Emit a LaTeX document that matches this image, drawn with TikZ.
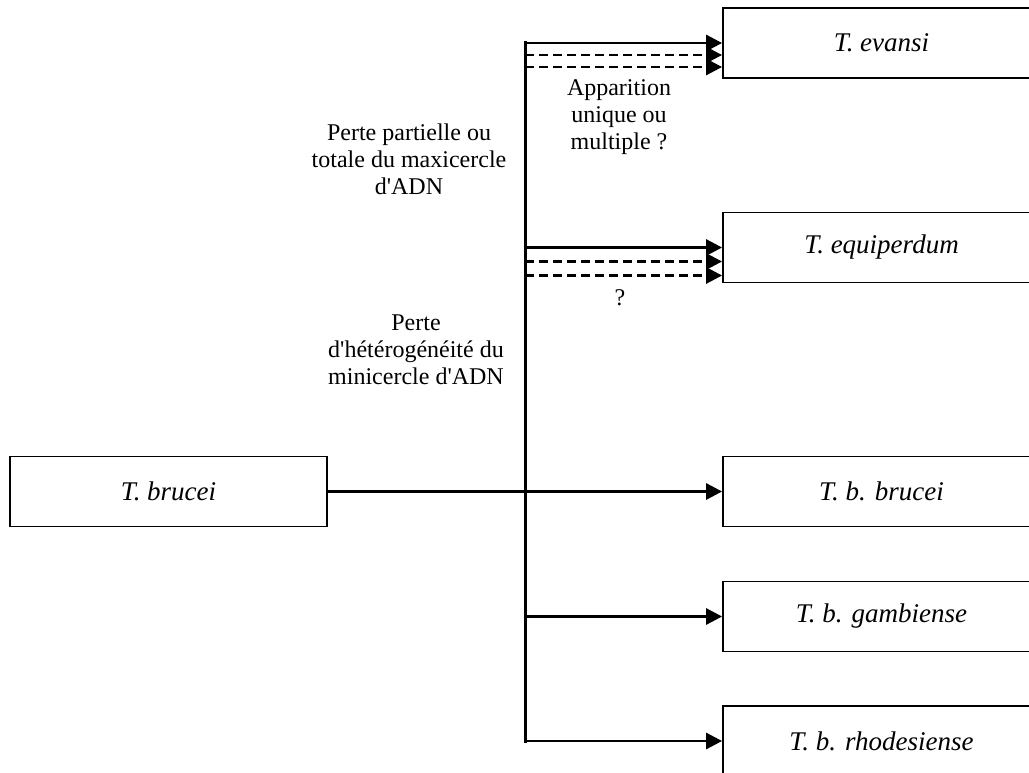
\documentclass[tikz,border=0pt]{standalone}
\usepackage{fontspec}
\setmainfont{Liberation Serif}
\usetikzlibrary{arrows.meta,calc}
\begin{document}
\begin{tikzpicture}[x=1pt,y=-1pt,
  taxbox/.style={draw,line width=1.8pt,minimum width=317pt,minimum height=70pt,inner sep=0pt,
    font=\fontsize{27}{30}\selectfont\itshape},
  lbl/.style={align=center,inner sep=0pt,font=\fontsize{24}{27}\selectfont},
  tip/.style={-{Triangle[length=16pt,width=16pt]}},
  solidarrow/.style={tip,line width=2.8pt},
  dasharrow/.style={tip,line width=2.8pt,dash pattern=on 9pt off 5pt},
  trunkline/.style={line width=3pt}]
\clip (0,0) rectangle (1029,773);
\fill[white] (0,0) rectangle (1029,773);
\node[taxbox] (tb) at (168.5,491.5) {T. brucei};
\node[taxbox] (ev) at (881.5,43) {T. evansi};
\node[taxbox] (eq) at (881.5,247.5) {T. equiperdum};
\node[taxbox] (bb) at (881.5,491.5) {T. b. brucei};
\node[taxbox] (ga) at (881.5,616.5) {T. b. gambiense};
\node[taxbox] (rh) at (881.5,741) {T. b. rhodesiense};
\coordinate (trunk) at (525,491.5);
% trunk
\draw[trunkline,line cap=rect] (trunk |- ev.west) -- (trunk |- rh.west);
% main line
\draw[line width=3.8pt] (tb.east) -- (trunk);
\draw[solidarrow] (trunk) -- (bb.west);
% evansi
\draw[solidarrow] (trunk |- ev.west) -- (ev.west);
\draw[dasharrow] ($(trunk |- ev.west)+(0,12)$) -- ($(ev.west)+(0,12)$);
\draw[dasharrow] ($(trunk |- ev.west)+(0,24)$) -- ($(ev.west)+(0,24)$);
% equiperdum
\draw[solidarrow] (trunk |- eq.west) -- (eq.west);
\draw[dasharrow] ($(trunk |- eq.west)+(0,14)$) -- ($(eq.west)+(0,14)$);
\draw[dasharrow] ($(trunk |- eq.west)+(0,28)$) -- ($(eq.west)+(0,28)$);
% others
\draw[solidarrow] (trunk |- ga.west) -- (ga.west);
\draw[solidarrow] (trunk |- rh.west) -- (rh.west);
% labels
\node[lbl] (l1) at (409,159) {Perte partielle ou\\totale du maxicercle\\d\textquotesingle ADN};
\node[lbl] (l2) at (416,350) {Perte\\d\textquotesingle hétérogénéité du\\minicercle d\textquotesingle ADN};
\node[lbl] (l3) at (619,117) {Apparition\\unique ou\\multiple ?};
\node[lbl] (l4) at (620,298) {?};
\end{tikzpicture}
\end{document}
